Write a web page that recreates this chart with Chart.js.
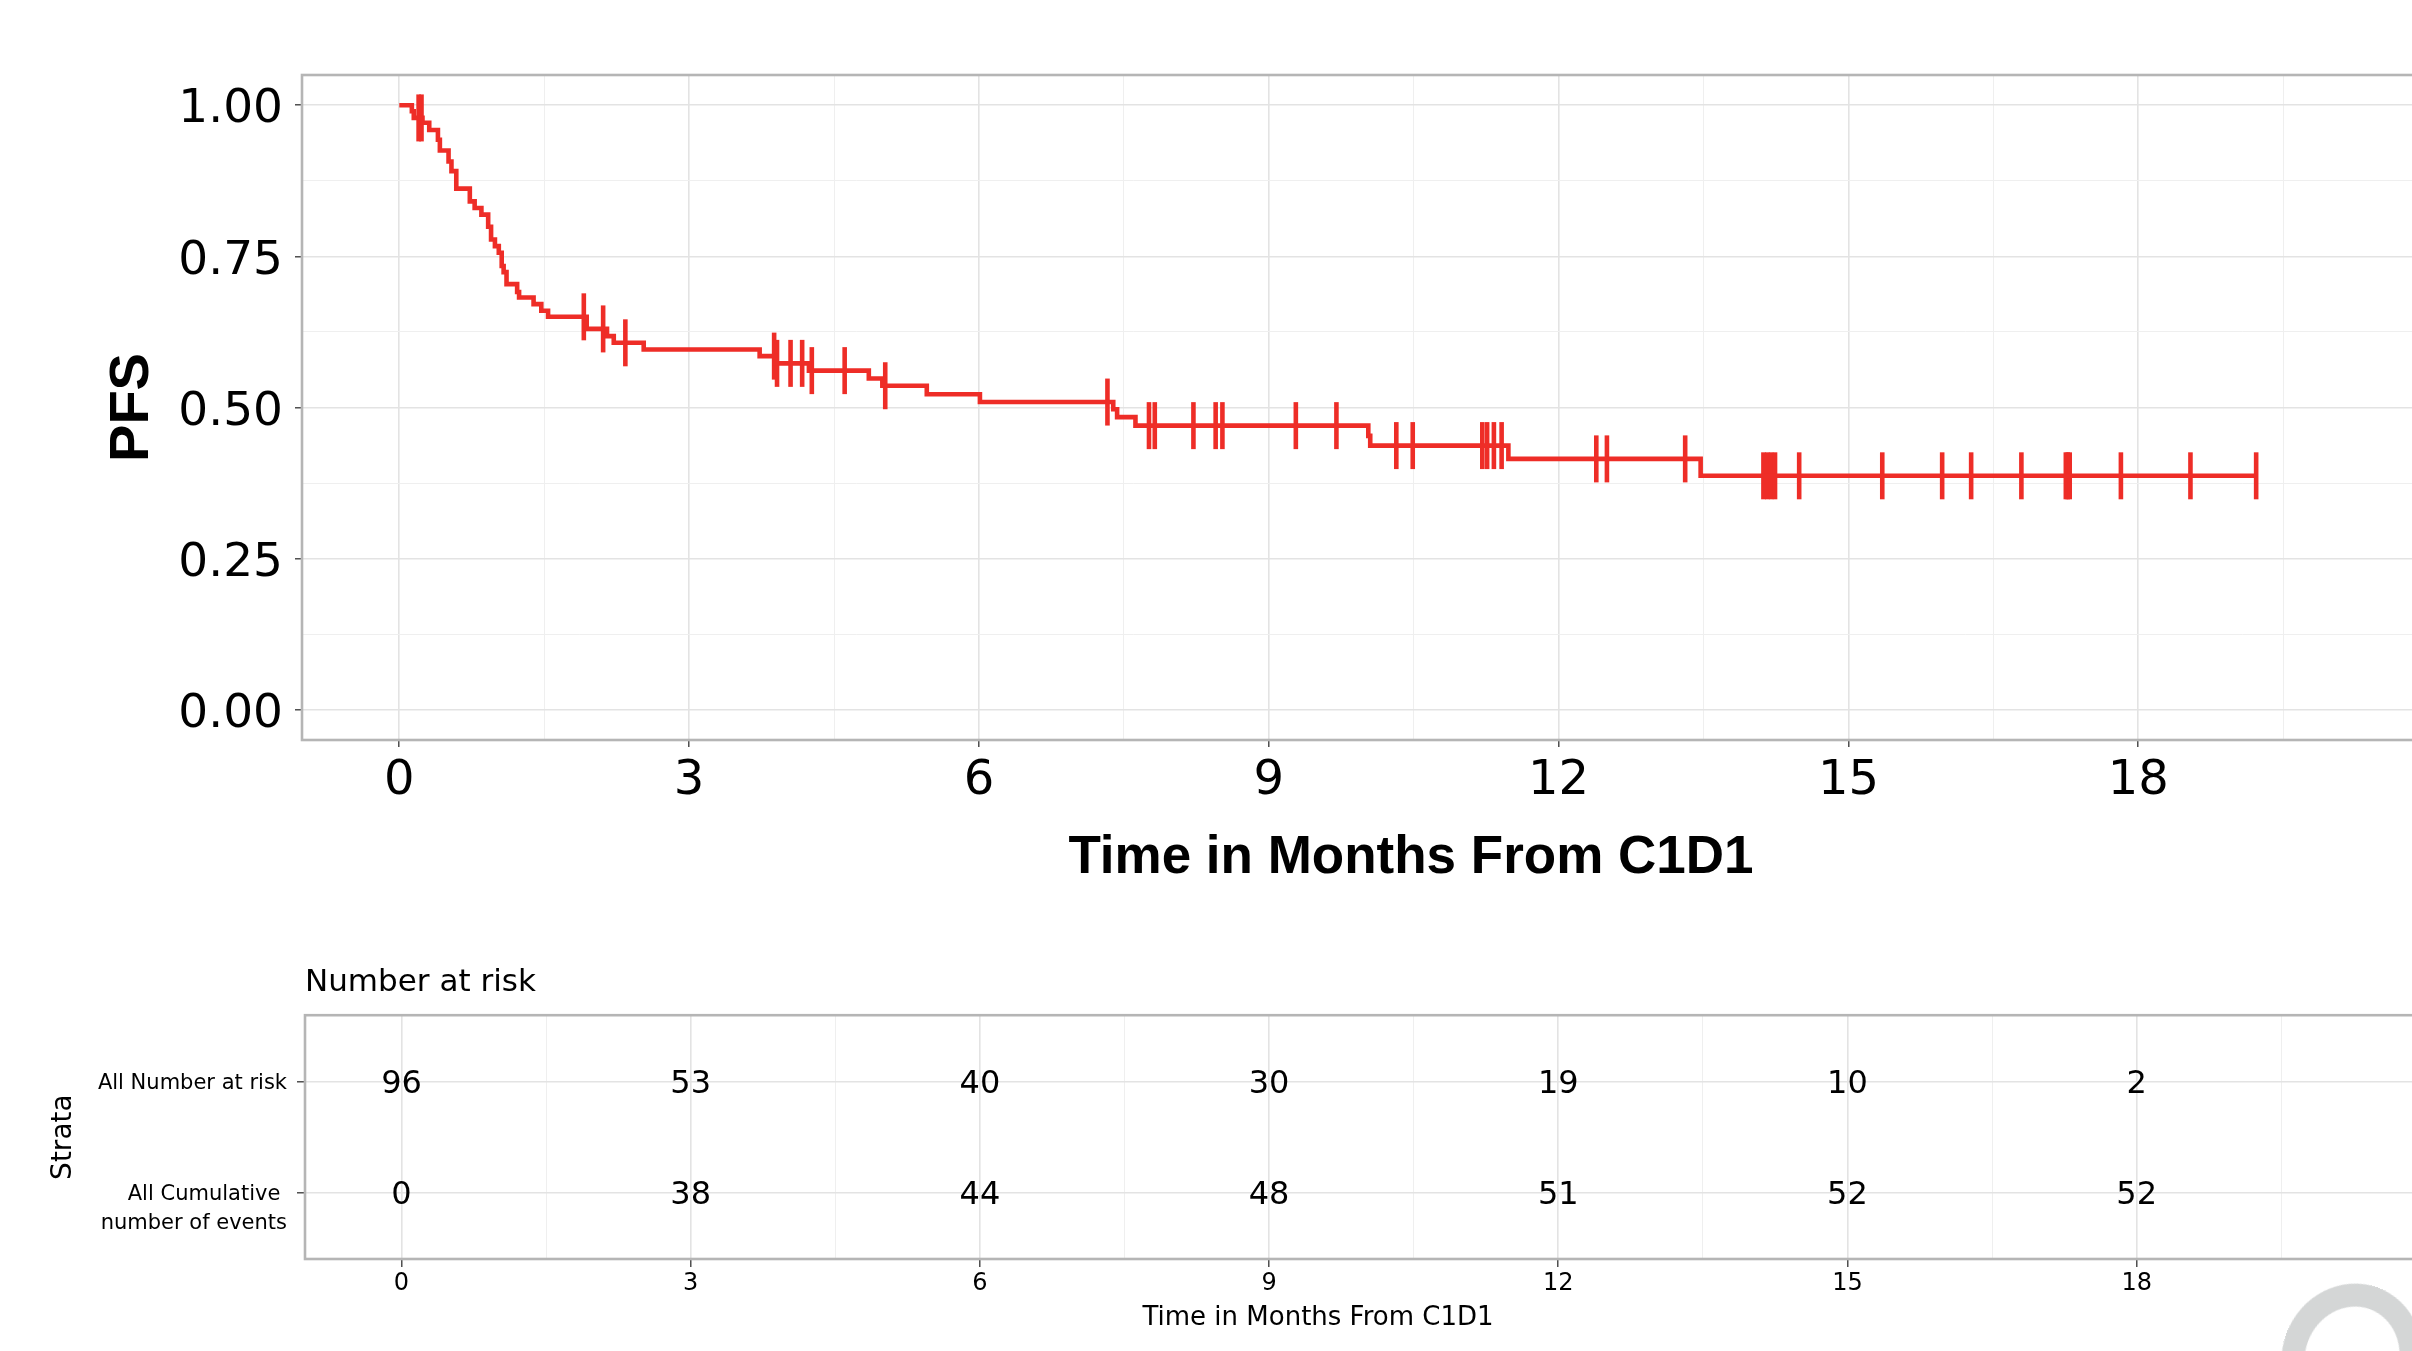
<!DOCTYPE html>
<html>
<head>
<meta charset="utf-8">
<title>PFS - Time in Months From C1D1</title>
<script src="https://cdn.jsdelivr.net/npm/chart.js@4.4.1/dist/chart.umd.min.js"></script>
<style>
    html, body { margin: 0; padding: 0; background: #fff; overflow: hidden; width: 2412px; height: 1351px; }
    #kmWrap { position: absolute; left: 0; top: 0; }
    #riskWrap { position: absolute; left: 0; top: 900px; }
    /* grey watermark in the lower right corner */
    .mark { position: absolute; left: 2282px; top: 1283px; width: 140px; height: 150px;
            border: 23px solid #d4d6d6; border-radius: 50%; box-sizing: border-box; transform: rotate(20deg); }
</style>
</head>
<body>
<div id="kmWrap"><canvas id="kmChart" width="2548" height="900"></canvas></div>
<div id="riskWrap"><canvas id="riskChart" width="2636" height="451"></canvas></div>
<div class="mark"></div>
<script>
// Kaplan-Meier steps (time in months, PFS after the drop)
const kmTimes = [0, 0.13, 0.15, 0.24, 0.31, 0.40, 0.42, 0.51, 0.54, 0.59, 0.73, 0.78, 0.85, 0.92, 0.95,
    0.99, 1.03, 1.06, 1.08, 1.11, 1.22, 1.24, 1.39, 1.47, 1.54, 1.94, 2.15, 2.22, 2.53, 3.73, 3.89,
    4.24, 4.86, 5.00, 5.46, 6.01, 7.39, 7.43, 7.62, 10.03, 10.05, 11.48, 13.47, 19.22];
const kmSurv = [1, 0.990, 0.979, 0.971, 0.959, 0.943, 0.925, 0.907, 0.891, 0.862, 0.841, 0.830, 0.819, 0.799, 0.778,
    0.767, 0.756, 0.734, 0.724, 0.704, 0.691, 0.682, 0.671, 0.660, 0.650, 0.630, 0.618, 0.607, 0.596, 0.585, 0.573,
    0.561, 0.548, 0.536, 0.522, 0.509, 0.497, 0.484, 0.470, 0.453, 0.437, 0.415, 0.387, 0.387];

// censored observations (the "+" ticks on the curve)
const censorTimes = [0.20, 0.23, 1.91, 2.11, 2.34, 3.88, 3.91, 4.05, 4.17, 4.27, 4.61, 5.03, 7.33, 7.76, 7.82,
    8.22, 8.45, 8.52, 9.28, 9.70, 10.32, 10.49, 11.21, 11.26, 11.33, 11.41, 12.39, 12.50, 13.31, 14.12, 14.16,
    14.20, 14.24, 14.49, 15.35, 15.97, 16.27, 16.79, 17.25, 17.27, 17.29, 17.82, 18.54, 19.22];

// axis breaks
const xTicks = [0, 3, 6, 9, 12, 15, 18];
const xMinor = [1.5, 4.5, 7.5, 10.5, 13.5, 16.5, 19.5, 21];
const yTicks = [0, 0.25, 0.5, 0.75, 1];
const yMinor = [0.125, 0.375, 0.625, 0.875];

// risk table
const riskTimes = [0, 3, 6, 9, 12, 15, 18];
const atRisk = [96, 53, 40, 30, 19, 10, 2];
const cumEvents = [0, 38, 44, 48, 51, 52, 52];
const strataLabels = ['All Number at risk', ['', 'All Cumulative ', 'number of events']];

const RED = '#ee2d27';
const TEXT_FONT = "'DejaVu Sans', 'Noto Sans', sans-serif";
const BOLD_FONT = "'Liberation Sans', Arial, sans-serif";
const GRID_MAJOR = '#e3e3e3';
const GRID_MINOR = '#efefef';

// PFS level at time t (value of the step function)
function survAt(t) {
    let s = kmSurv[0];
    for (let i = 0; i < kmTimes.length; i++) {
        if (kmTimes[i] <= t) s = kmSurv[i];
    }
    return s;
}

const xGrid = xTicks.concat(xMinor).sort((a, b) => a - b);
const yGrid = yTicks.concat(yMinor).sort((a, b) => a - b);

// grid helpers: majors get a label and a tick mark, minors only a faint line
function xGridOptions(tickLen) {
    return {
        color: c => (c.tick && xTicks.includes(c.tick.value)) ? GRID_MAJOR : GRID_MINOR,
        lineWidth: c => (c.tick && xTicks.includes(c.tick.value)) ? 1.6 : 1,
        tickColor: c => (c.tick && xTicks.includes(c.tick.value)) ? '#333' : 'rgba(0,0,0,0)',
        tickLength: tickLen,
        tickWidth: 1.3
    };
}

// grey panel frame
const panelBorder = {
    id: 'panelBorder',
    afterDraw(chart) {
        const { ctx, chartArea: a } = chart;
        ctx.save();
        ctx.strokeStyle = '#b5b5b5';
        ctx.lineWidth = 2.6;
        ctx.strokeRect(a.left, a.top, a.right - a.left, a.bottom - a.top);
        ctx.restore();
    }
};

// numbers inside the risk table, placed on the points of each row
const riskLabels = {
    id: 'riskLabels',
    afterDatasetsDraw(chart) {
        const ctx = chart.ctx;
        ctx.save();
        ctx.font = '32px ' + TEXT_FONT;
        ctx.fillStyle = '#000';
        ctx.textAlign = 'center';
        ctx.textBaseline = 'middle';
        chart.data.datasets.forEach((ds, i) => {
            chart.getDatasetMeta(i).data.forEach((pt, j) => {
                ctx.fillText(String(ds.data[j].n), pt.x, pt.y + 3);
            });
        });
        ctx.restore();
    }
};

document.addEventListener("DOMContentLoaded", function () {
    // Survival curve
    new Chart(document.getElementById('kmChart'), {
        type: 'scatter',
        data: {
            datasets: [{
                label: 'All',
                data: kmTimes.map((t, i) => ({ x: t, y: kmSurv[i] })),
                showLine: true,
                stepped: 'before',
                borderColor: RED,
                borderWidth: 4.6,
                pointRadius: 0
            }, {
                label: 'Censored',
                data: censorTimes.map(t => ({ x: t, y: survAt(t) })),
                showLine: false,
                pointStyle: 'line',
                rotation: 90,
                pointRadius: 23.5,
                borderColor: RED,
                backgroundColor: RED,
                borderWidth: 4.6
            }]
        },
        options: {
            responsive: false,
            animation: false,
            devicePixelRatio: 1,
            events: [],
            layout: { padding: { top: 75, left: 0, right: 0, bottom: 0 } },
            plugins: { legend: { display: false }, tooltip: { enabled: false } },
            scales: {
                x: {
                    type: 'linear', min: -1.007, max: 21.95,
                    afterBuildTicks: s => { s.ticks = xGrid.map(v => ({ value: v })); },
                    afterFit: s => { s.height = 160; },
                    border: { display: false },
                    grid: xGridOptions(7),
                    ticks: {
                        autoSkip: false, maxRotation: 0, padding: 6, color: '#000',
                        font: { family: TEXT_FONT, size: 48 },
                        callback: v => xTicks.includes(v) ? String(v) : ''
                    },
                    title: {
                        display: true, text: 'Time in Months From C1D1', color: '#000',
                        font: { family: BOLD_FONT, size: 53, weight: 'bold' },
                        padding: { top: 0, bottom: 10 }
                    }
                },
                y: {
                    type: 'linear', min: -0.05, max: 1.05,
                    afterBuildTicks: s => { s.ticks = yGrid.map(v => ({ value: v })); },
                    afterFit: s => { s.width = 302; },
                    border: { display: false },
                    grid: {
                        color: c => (c.tick && yTicks.includes(c.tick.value)) ? GRID_MAJOR : GRID_MINOR,
                        lineWidth: c => (c.tick && yTicks.includes(c.tick.value)) ? 1.6 : 1,
                        tickColor: c => (c.tick && yTicks.includes(c.tick.value)) ? '#333' : 'rgba(0,0,0,0)',
                        tickLength: 7,
                        tickWidth: 1.3
                    },
                    ticks: {
                        autoSkip: false, padding: 12, labelOffset: 5, color: '#000',
                        font: { family: TEXT_FONT, size: 47 },
                        callback: v => yTicks.includes(v) ? v.toFixed(2) : ''
                    },
                    title: {
                        display: true, text: 'PFS', color: '#000',
                        font: { family: BOLD_FONT, size: 56, weight: 'bold' },
                        padding: { top: 99, bottom: 0 }
                    }
                }
            }
        },
        plugins: [panelBorder]
    });

    // Number at risk table
    new Chart(document.getElementById('riskChart'), {
        type: 'scatter',
        data: {
            datasets: [{
                label: 'All Number at risk',
                data: riskTimes.map((t, i) => ({ x: t, y: 1, n: atRisk[i] })),
                pointRadius: 0
            }, {
                label: 'All Cumulative number of events',
                data: riskTimes.map((t, i) => ({ x: t, y: 2, n: cumEvents[i] })),
                pointRadius: 0
            }]
        },
        options: {
            responsive: false,
            animation: false,
            devicePixelRatio: 1,
            events: [],
            layout: { padding: 0 },
            plugins: {
                legend: { display: false },
                tooltip: { enabled: false },
                title: {
                    display: true, text: 'Number at risk', position: 'top', align: 'start', fullSize: false,
                    color: '#000', font: { family: TEXT_FONT, size: 31, weight: 'normal' },
                    padding: { top: 64, bottom: 14 }
                },
                subtitle: {
                    display: true, text: 'Time in Months From C1D1', position: 'bottom', align: 'center', fullSize: true,
                    color: '#000', font: { family: TEXT_FONT, size: 26, weight: 'normal' },
                    padding: { top: 0, bottom: 17 }
                }
            },
            scales: {
                x: {
                    type: 'linear', min: -1.001, max: 23.18,
                    afterBuildTicks: s => { s.ticks = xGrid.map(v => ({ value: v })); },
                    afterFit: s => { s.height = 43.8; },
                    border: { display: false },
                    grid: xGridOptions(8),
                    ticks: {
                        autoSkip: false, maxRotation: 0, padding: 2.6, color: '#000',
                        font: { family: TEXT_FONT, size: 24 },
                        callback: v => riskTimes.includes(v) ? String(v) : ''
                    }
                },
                y: {
                    type: 'linear', reverse: true, min: 0.4, max: 2.6,
                    afterBuildTicks: s => { s.ticks = [{ value: 1 }, { value: 2 }]; },
                    afterFit: s => { s.width = 305; },
                    border: { display: false },
                    grid: { color: GRID_MAJOR, lineWidth: 1.6, tickColor: '#333', tickLength: 8, tickWidth: 1.3 },
                    ticks: {
                        autoSkip: false, padding: 10, labelOffset: 2, color: '#000',
                        font: { family: TEXT_FONT, size: 21, lineHeight: 1.37 },
                        callback: v => strataLabels[v - 1]
                    },
                    title: {
                        display: true, text: 'Strata', color: '#000',
                        font: { family: TEXT_FONT, size: 28 },
                        padding: { top: 47, bottom: 0 }
                    }
                }
            }
        },
        plugins: [panelBorder, riskLabels]
    });
});
</script>
</body>
</html>
